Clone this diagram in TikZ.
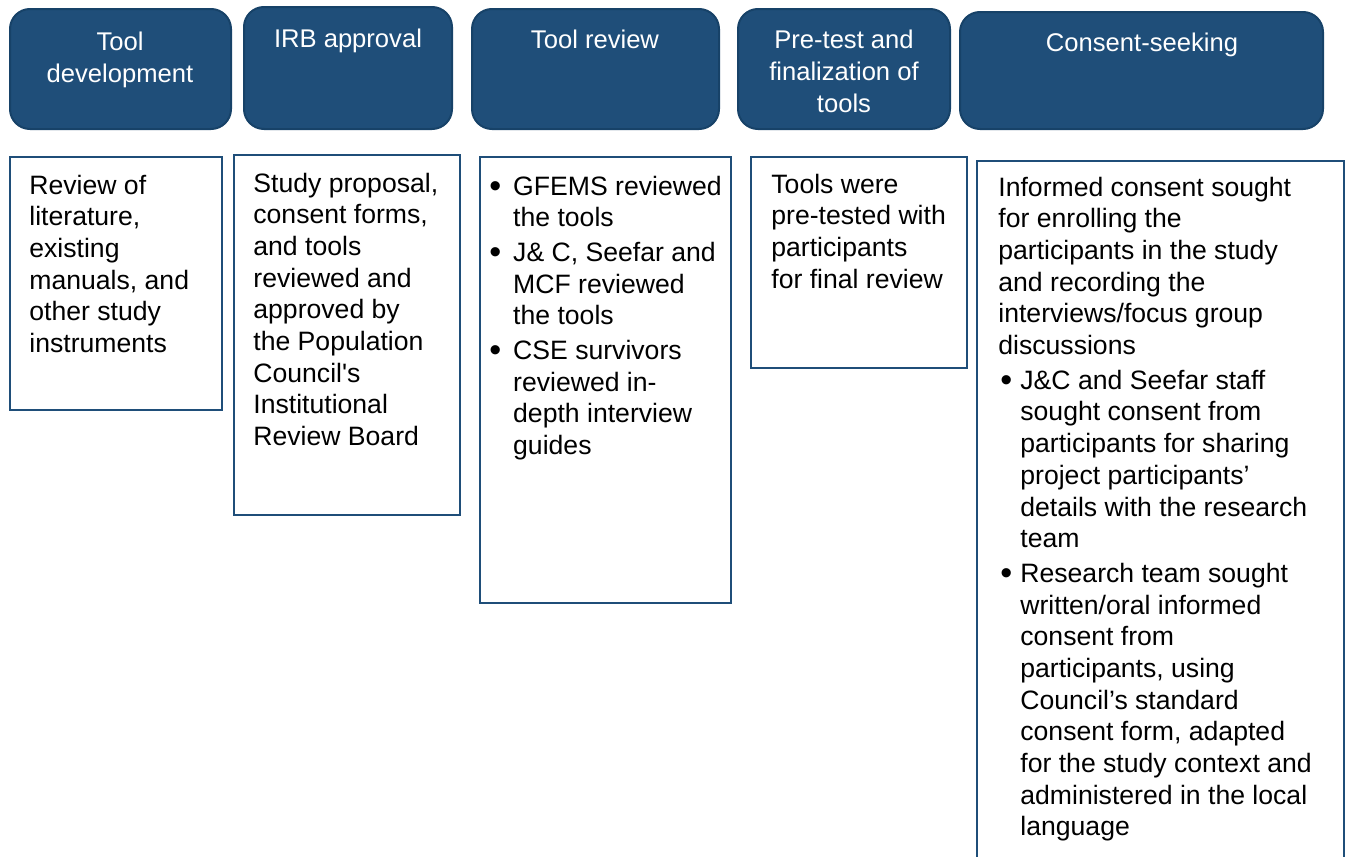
\documentclass[tikz,border=0pt]{standalone}
\usepackage{fontspec}
\setmainfont{Liberation Sans}

\definecolor{stepblue}{HTML}{1F4E79}
\definecolor{stepedge}{HTML}{174268}

\newcommand{\bodyfont}{\fontsize{13.3}{15.85}\selectfont}
\newcommand{\headfont}{\fontsize{12.8}{16}\selectfont}
\newcommand{\bigdot}{\raisebox{-1.2pt}{\fontsize{17}{17}\selectfont\textbullet}}
\newcommand{\blt}{\makebox[11.9pt][l]{\bigdot}}

\tikzset{
	headbox/.style={fill=stepblue, draw=stepedge, line width=1pt, rounded corners=10pt},
	bodybox/.style={draw=stepblue, line width=1.1pt},
	headtext/.style={anchor=base, inner sep=0pt, text=white, font=\headfont},
	bodytext/.style={anchor=base west, inner sep=0pt, font=\bodyfont},
}

\begin{document}
\begin{tikzpicture}[x=0.5pt, y=-0.5pt]
	\useasboundingbox (0,0) rectangle (1351,857);
	% stage headers
	\draw[headbox] (10,9) rectangle (231,129);
	\draw[headbox] (244,7) rectangle (452,129);
	\draw[headbox] (472,9) rectangle (719,129);
	\draw[headbox] (738,9) rectangle (950,129);
	\draw[headbox] (960,12) rectangle (1323,129);
	\node[headtext] (tooldev) at (120,50) {\begin{tabular}[t]{@{}c@{}}Tool\\development\end{tabular}};
	\node[headtext] (irb) at (348,47) {\begin{tabular}[t]{@{}c@{}}IRB approval\end{tabular}};
	\node[headtext] (toolrev) at (595,48) {\begin{tabular}[t]{@{}c@{}}Tool review\end{tabular}};
	\node[headtext] (pretest) at (844,48) {\begin{tabular}[t]{@{}c@{}}Pre-test and\\finalization of\\tools\end{tabular}};
	\node[headtext] (consent) at (1142,51) {\begin{tabular}[t]{@{}c@{}}Consent-seeking\end{tabular}};
	% detail boxes
	\draw[bodybox] (10,157) rectangle (222,410);
	\draw[bodybox] (234,155) rectangle (460,515);
	\draw[bodybox] (480,157) rectangle (731,603);
	\draw[bodybox] (751,157) rectangle (967,368);
	\draw[bodybox] (977,161) rectangle (1344,900);
	\node[bodytext] (devtext) at (29,194) {\begin{tabular}[t]{@{}l@{}}Review of\\literature,\\existing\\manuals, and\\other study\\instruments\end{tabular}};
	\node[bodytext] (irbtext) at (253,192) {\begin{tabular}[t]{@{}l@{}}Study proposal,\\consent forms,\\and tools\\reviewed and\\approved by\\the Population\\Council\textquotesingle s\\Institutional\\Review Board\end{tabular}};
	\node[bodytext] (revtext) at (489,195) {\begin{tabular}[t]{@{}l@{}l@{}}
		\blt & GFEMS reviewed\\ & the tools\\[1.5pt]
		\blt & J\& C, Seefar and\\ & MCF reviewed\\ & the tools\\[1.5pt]
		\blt & CSE survivors\\ & reviewed in-\\ & depth interview\\ & guides
	\end{tabular}};
	\node[bodytext] (pretext) at (771,193) {\begin{tabular}[t]{@{}l@{}}Tools were\\pre-tested with\\participants\\for final review\end{tabular}};
	\node[bodytext] (context) at (998,196) {\begin{tabular}[t]{@{\hspace{1pt}}l@{}l@{}}
		\multicolumn{2}{@{}l@{}}{Informed consent sought}\\
		\multicolumn{2}{@{}l@{}}{for enrolling the}\\
		\multicolumn{2}{@{}l@{}}{participants in the study}\\
		\multicolumn{2}{@{}l@{}}{and recording the}\\
		\multicolumn{2}{@{}l@{}}{interviews/focus group}\\
		\multicolumn{2}{@{}l@{}}{discussions}\\[1.5pt]
		\makebox[10pt][l]{\bigdot} & J\&C and Seefar staff\\ & sought consent from\\ & participants for sharing\\ & project participants’\\ & details with the research\\ & team\\[1.5pt]
		\makebox[10pt][l]{\bigdot} & Research team sought\\ & written/oral informed\\ & consent from\\ & participants, using\\ & Council’s standard\\ & consent form, adapted\\ & for the study context and\\ & administered in the local\\ & language
	\end{tabular}};
\end{tikzpicture}
\end{document}
